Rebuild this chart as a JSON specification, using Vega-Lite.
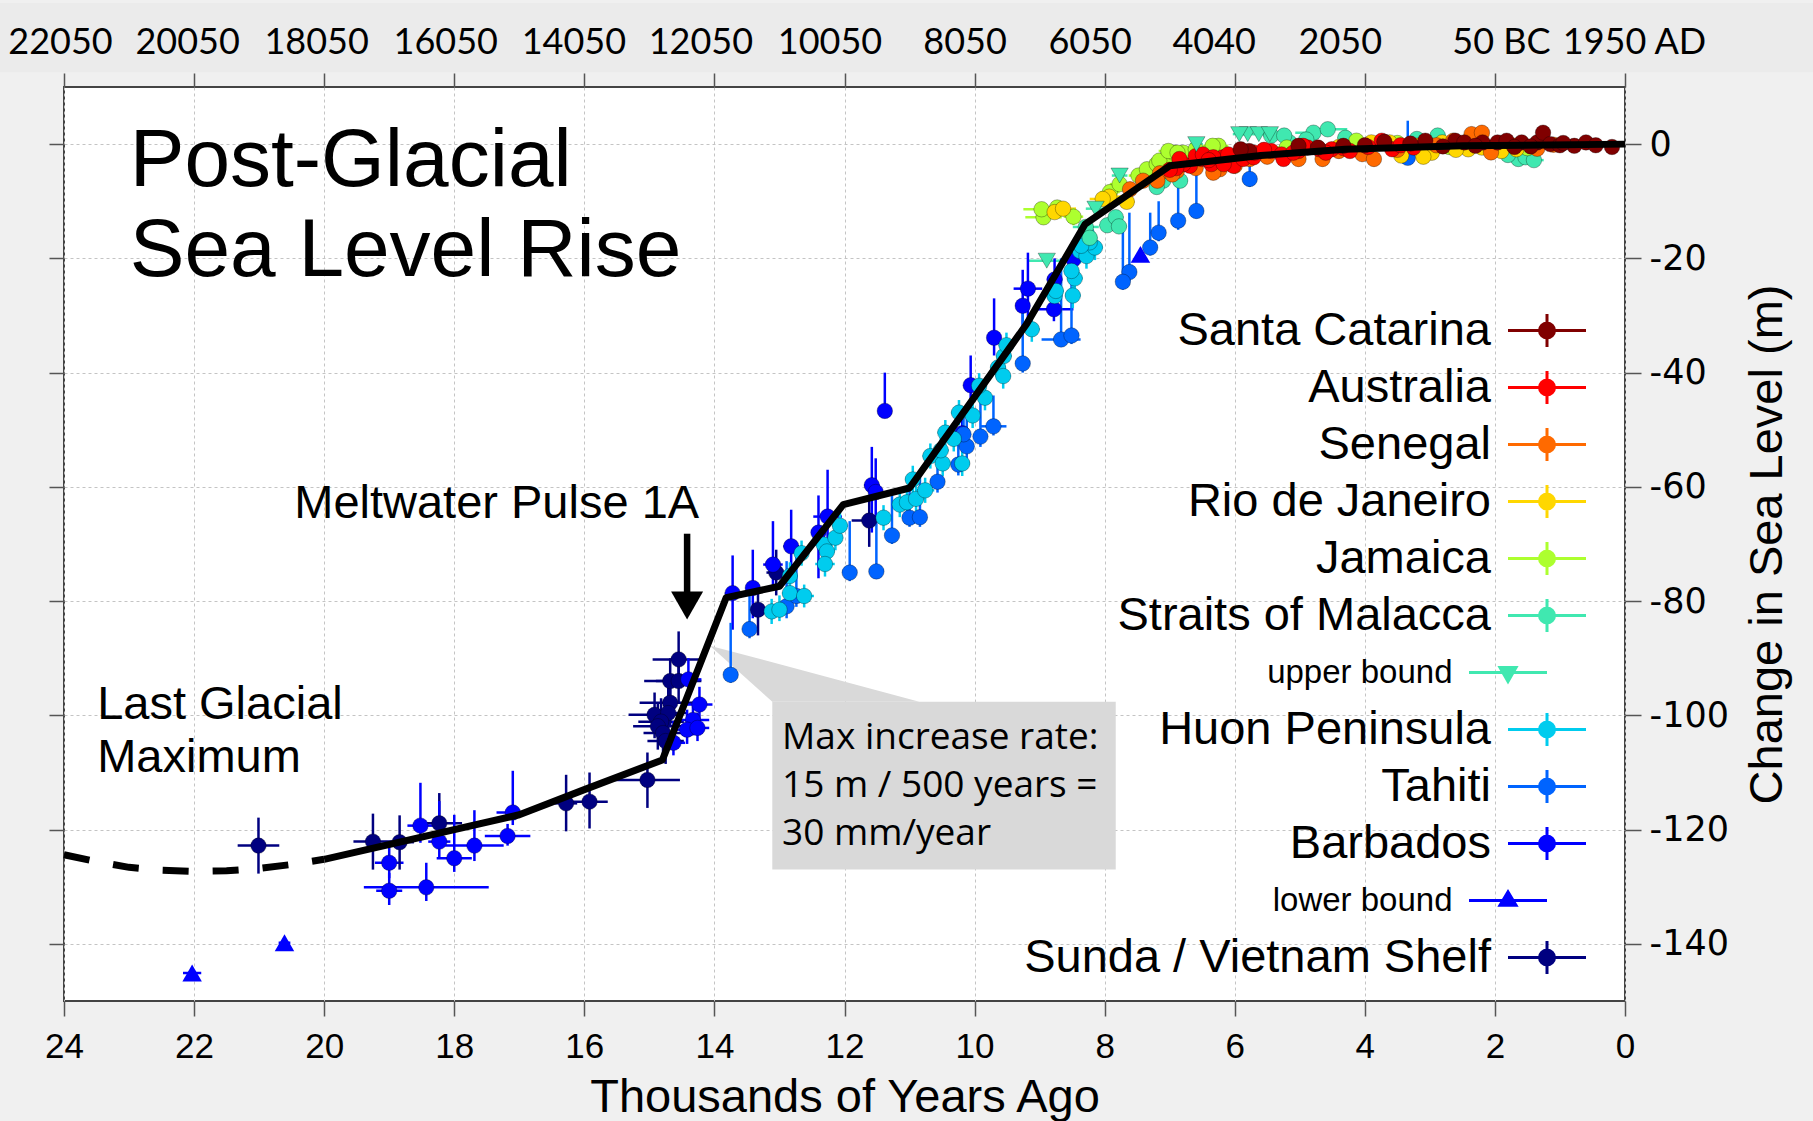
{
"$schema": "https://vega.github.io/schema/vega-lite/v6.json",
"width": 1561, "height": 914,
"autosize": {"type": "none"},
"padding": {"left": 64, "top": 87, "right": 188, "bottom": 120},
"background": "#f0f0f0",
"config": {"view": {"fill": "white", "stroke": "#444444", "strokeWidth": 2}, "text": {"font": "Liberation Sans"}},
"resolve": {"axis": {"x": "independent", "y": "independent"}},
"datasets": {
"pts": [
{"s":"Sunda / Vietnam Shelf","t":21.01,"z":-122.8,"dt":0.32,"eu":4.9,"ed":-4.9},
{"s":"Sunda / Vietnam Shelf","t":19.25,"z":-122.1,"dt":0.3,"eu":4.9,"ed":-4.9},
{"s":"Sunda / Vietnam Shelf","t":18.84,"z":-122.2,"dt":0.22,"eu":4.7,"ed":-4.8},
{"s":"Sunda / Vietnam Shelf","t":18.23,"z":-118.9,"dt":0.35,"eu":5.3,"ed":-3.6},
{"s":"Sunda / Vietnam Shelf","t":16.28,"z":-115.4,"dt":0.17,"eu":5,"ed":-4.9},
{"s":"Sunda / Vietnam Shelf","t":15.92,"z":-115.1,"dt":0.28,"eu":5.1,"ed":-4.7},
{"s":"Sunda / Vietnam Shelf","t":15.03,"z":-111.3,"dt":0.5,"eu":4.8,"ed":-4.9},
{"s":"Sunda / Vietnam Shelf","t":14.55,"z":-90.2,"dt":0.4,"eu":4.9,"ed":-4.9},
{"s":"Sunda / Vietnam Shelf","t":14.68,"z":-94.0,"dt":0.4,"eu":4,"ed":-4},
{"s":"Sunda / Vietnam Shelf","t":14.55,"z":-94.0,"dt":0.35,"eu":4,"ed":-4},
{"s":"Sunda / Vietnam Shelf","t":14.68,"z":-97.8,"dt":0.47,"eu":3.8,"ed":-4.2},
{"s":"Sunda / Vietnam Shelf","t":14.92,"z":-99.9,"dt":0.4,"eu":3.9,"ed":-4.1},
{"s":"Sunda / Vietnam Shelf","t":14.71,"z":-99.6,"dt":0.3,"eu":4.6,"ed":-4.4},
{"s":"Sunda / Vietnam Shelf","t":14.82,"z":-101.1,"dt":0.35,"eu":4.1,"ed":-3.9},
{"s":"Sunda / Vietnam Shelf","t":14.87,"z":-101.9,"dt":0.38,"eu":3.9,"ed":-4.1},
{"s":"Sunda / Vietnam Shelf","t":14.79,"z":-103.1,"dt":0.3,"eu":4.1,"ed":-3.9},
{"s":"Sunda / Vietnam Shelf","t":14.75,"z":-104.5,"dt":0.28,"eu":4,"ed":-4},
{"s":"Sunda / Vietnam Shelf","t":13.33,"z":-81.5,"dt":0.12,"eu":4.5,"ed":-4.5},
{"s":"Sunda / Vietnam Shelf","t":13.05,"z":-75.0,"dt":0.15,"eu":4,"ed":-4},
{"s":"Sunda / Vietnam Shelf","t":11.62,"z":-65.9,"dt":0.27,"eu":4.4,"ed":-4.6},
{"s":"lower bound","t":22.03,"z":-145.1,"dt":0.14,"eu":0,"ed":0},
{"s":"lower bound","t":20.61,"z":-139.8,"dt":0.09,"eu":0,"ed":0},
{"s":"lower bound","t":7.45,"z":-19.3,"dt":0,"eu":0,"ed":0},
{"s":"Barbados","t":19.0,"z":-125.8,"dt":0.22,"eu":3.3,"ed":-2.7},
{"s":"Barbados","t":19.0,"z":-130.7,"dt":0.2,"eu":3.1,"ed":-2.5},
{"s":"Barbados","t":18.52,"z":-119.3,"dt":0.2,"eu":7.5,"ed":-3},
{"s":"Barbados","t":18.23,"z":-122.1,"dt":0.17,"eu":7.1,"ed":-2.9},
{"s":"Barbados","t":18.43,"z":-130.1,"dt":0.96,"eu":4.3,"ed":-2.4},
{"s":"Barbados","t":18.0,"z":-125.0,"dt":0.27,"eu":7.6,"ed":-2.4},
{"s":"Barbados","t":17.69,"z":-122.8,"dt":0.45,"eu":6.2,"ed":-2.7},
{"s":"Barbados","t":17.18,"z":-121.1,"dt":0.35,"eu":2.1,"ed":-1.7},
{"s":"Barbados","t":17.10,"z":-117.0,"dt":0.25,"eu":7.3,"ed":-2.2},
{"s":"Barbados","t":14.40,"z":-93.7,"dt":0.2,"eu":3.7,"ed":-3.3},
{"s":"Barbados","t":14.23,"z":-98.1,"dt":0.2,"eu":3.1,"ed":-2.9},
{"s":"Barbados","t":14.33,"z":-100.8,"dt":0.25,"eu":2.8,"ed":-2.7},
{"s":"Barbados","t":14.42,"z":-102.5,"dt":0.2,"eu":3.5,"ed":-2.5},
{"s":"Barbados","t":14.26,"z":-102.2,"dt":0.18,"eu":2.7,"ed":-2.3},
{"s":"Barbados","t":14.63,"z":-104.8,"dt":0.18,"eu":3.8,"ed":-2.2},
{"s":"Barbados","t":13.72,"z":-78.6,"dt":0.12,"eu":6.6,"ed":-6.4},
{"s":"Barbados","t":13.41,"z":-77.7,"dt":0.1,"eu":6.7,"ed":-5.3},
{"s":"Barbados","t":13.10,"z":-73.6,"dt":0.15,"eu":7.6,"ed":-4.4},
{"s":"Barbados","t":12.82,"z":-70.4,"dt":0.12,"eu":6.4,"ed":-3.6},
{"s":"Barbados","t":12.40,"z":-68.0,"dt":0.1,"eu":6.5,"ed":-8},
{"s":"Barbados","t":12.26,"z":-65.2,"dt":0.22,"eu":8.2,"ed":-7.8},
{"s":"Barbados","t":11.58,"z":-59.7,"dt":0.12,"eu":6.7,"ed":-8.3},
{"s":"Barbados","t":11.52,"z":-60.9,"dt":0.1,"eu":5.9,"ed":-5.1},
{"s":"Barbados","t":11.38,"z":-46.7,"dt":0,"eu":6.7,"ed":-1.1},
{"s":"Barbados","t":10.19,"z":-50.6,"dt":0.12,"eu":4.6,"ed":-2.4},
{"s":"Barbados","t":10.06,"z":-42.2,"dt":0.1,"eu":5.2,"ed":-4.3},
{"s":"Barbados","t":9.70,"z":-33.9,"dt":0.1,"eu":6.9,"ed":-3.1},
{"s":"Barbados","t":9.26,"z":-28.3,"dt":0.1,"eu":6.3,"ed":-4.7},
{"s":"Barbados","t":9.18,"z":-25.3,"dt":0.22,"eu":6.3,"ed":-5.7},
{"s":"Barbados","t":8.78,"z":-28.9,"dt":0.3,"eu":4.9,"ed":-2.1},
{"s":"Barbados","t":8.77,"z":-23.7,"dt":0.12,"eu":3.7,"ed":-3.3},
{"s":"Barbados","t":8.48,"z":-20.2,"dt":0.12,"eu":3.2,"ed":-2.8},
{"s":"Tahiti","t":13.75,"z":-92.9,"dt":0.1,"eu":9.1,"ed":-1.4},
{"s":"Tahiti","t":13.46,"z":-84.9,"dt":0.1,"eu":7.9,"ed":-1.6},
{"s":"Tahiti","t":12.89,"z":-80.9,"dt":0.1,"eu":7.9,"ed":-2.1},
{"s":"Tahiti","t":12.74,"z":-79.1,"dt":0.12,"eu":7.1,"ed":-1.9},
{"s":"Tahiti","t":11.92,"z":-75.0,"dt":0.08,"eu":9,"ed":-1.5},
{"s":"Tahiti","t":11.51,"z":-74.8,"dt":0.1,"eu":8.8,"ed":-1.2},
{"s":"Tahiti","t":11.27,"z":-68.5,"dt":0.08,"eu":7.5,"ed":-1.5},
{"s":"Tahiti","t":11.0,"z":-65.4,"dt":0.1,"eu":7.4,"ed":-1.6},
{"s":"Tahiti","t":10.84,"z":-65.3,"dt":0.1,"eu":7.3,"ed":-1.7},
{"s":"Tahiti","t":10.57,"z":-59.1,"dt":0.1,"eu":6.1,"ed":-1.9},
{"s":"Tahiti","t":10.25,"z":-56.1,"dt":0.1,"eu":6.1,"ed":-1.9},
{"s":"Tahiti","t":10.12,"z":-52.9,"dt":0.1,"eu":5.9,"ed":-2.1},
{"s":"Tahiti","t":9.91,"z":-51.2,"dt":0.1,"eu":6.2,"ed":-1.8},
{"s":"Tahiti","t":9.71,"z":-49.4,"dt":0.2,"eu":5.4,"ed":-1.6},
{"s":"Tahiti","t":10.17,"z":-50.8,"dt":0.08,"eu":4.8,"ed":-1.2},
{"s":"Tahiti","t":9.26,"z":-38.4,"dt":0.05,"eu":10.4,"ed":-1.6},
{"s":"Tahiti","t":8.67,"z":-34.2,"dt":0.3,"eu":14.2,"ed":-1.3},
{"s":"Tahiti","t":8.51,"z":-33.5,"dt":0.1,"eu":11.5,"ed":-1.5},
{"s":"Tahiti","t":7.62,"z":-22.4,"dt":0.08,"eu":10.4,"ed":-1.6},
{"s":"Tahiti","t":7.72,"z":-24.1,"dt":0.08,"eu":10.1,"ed":-1.4},
{"s":"Tahiti","t":7.30,"z":-18.1,"dt":0.08,"eu":6.1,"ed":-1.4},
{"s":"Tahiti","t":7.17,"z":-15.5,"dt":0.1,"eu":5.5,"ed":-1.5},
{"s":"Tahiti","t":6.87,"z":-13.4,"dt":0.08,"eu":8.4,"ed":-1.6},
{"s":"Tahiti","t":6.59,"z":-11.7,"dt":0.08,"eu":7.7,"ed":-1.3},
{"s":"Tahiti","t":5.77,"z":-6.1,"dt":0.08,"eu":5.1,"ed":-1.4},
{"s":"Tahiti","t":3.34,"z":-2.4,"dt":0,"eu":6.5,"ed":-0.6},
{"s":"Huon Peninsula","t":13.12,"z":-81.8,"dt":0.12,"eu":2.2,"ed":-2.2},
{"s":"Huon Peninsula","t":13.0,"z":-81.5,"dt":0.13,"eu":2.5,"ed":-2},
{"s":"Huon Peninsula","t":12.84,"z":-78.6,"dt":0.12,"eu":2.2,"ed":-2.2},
{"s":"Huon Peninsula","t":12.62,"z":-79.1,"dt":0.15,"eu":2,"ed":-2},
{"s":"Huon Peninsula","t":12.84,"z":-75.6,"dt":0.12,"eu":2.4,"ed":-2.4},
{"s":"Huon Peninsula","t":12.66,"z":-71.6,"dt":0.12,"eu":2.2,"ed":-2.2},
{"s":"Huon Peninsula","t":12.32,"z":-70.1,"dt":0.14,"eu":2.2,"ed":-2.2},
{"s":"Huon Peninsula","t":12.27,"z":-71.3,"dt":0.12,"eu":2,"ed":-2},
{"s":"Huon Peninsula","t":12.30,"z":-73.5,"dt":0.15,"eu":2.2,"ed":-2.2},
{"s":"Huon Peninsula","t":12.14,"z":-68.9,"dt":0.12,"eu":2.2,"ed":-2.2},
{"s":"Huon Peninsula","t":12.07,"z":-66.8,"dt":0.12,"eu":2.5,"ed":-2.5},
{"s":"Huon Peninsula","t":11.40,"z":-65.4,"dt":0.12,"eu":2.2,"ed":-2.2},
{"s":"Huon Peninsula","t":11.15,"z":-63.1,"dt":0.12,"eu":2.2,"ed":-2.2},
{"s":"Huon Peninsula","t":11.04,"z":-62.7,"dt":0.12,"eu":2,"ed":-2},
{"s":"Huon Peninsula","t":10.90,"z":-62.1,"dt":0.12,"eu":2.2,"ed":-2.2},
{"s":"Huon Peninsula","t":10.76,"z":-60.6,"dt":0.14,"eu":2.2,"ed":-2.2},
{"s":"Huon Peninsula","t":10.95,"z":-58.7,"dt":0.12,"eu":2.4,"ed":-2.4},
{"s":"Huon Peninsula","t":10.68,"z":-54.6,"dt":0.12,"eu":2.2,"ed":-2.2},
{"s":"Huon Peninsula","t":10.49,"z":-55.9,"dt":0.12,"eu":2.2,"ed":-2.2},
{"s":"Huon Peninsula","t":10.52,"z":-53.6,"dt":0.12,"eu":2.2,"ed":-2.2},
{"s":"Huon Peninsula","t":10.45,"z":-50.5,"dt":0.12,"eu":2.2,"ed":-2.2},
{"s":"Huon Peninsula","t":10.19,"z":-55.9,"dt":0.12,"eu":2.2,"ed":-2.2},
{"s":"Huon Peninsula","t":10.32,"z":-51.6,"dt":0.12,"eu":2.2,"ed":-2.2},
{"s":"Huon Peninsula","t":10.24,"z":-47.0,"dt":0.12,"eu":2.2,"ed":-2.2},
{"s":"Huon Peninsula","t":10.03,"z":-47.5,"dt":0.12,"eu":2.2,"ed":-2.2},
{"s":"Huon Peninsula","t":9.84,"z":-44.4,"dt":0.12,"eu":2.2,"ed":-2.2},
{"s":"Huon Peninsula","t":9.93,"z":-42.3,"dt":0.12,"eu":2.2,"ed":-2.2},
{"s":"Huon Peninsula","t":9.64,"z":-39.1,"dt":0.12,"eu":2.2,"ed":-2.2},
{"s":"Huon Peninsula","t":9.56,"z":-40.6,"dt":0.12,"eu":2.2,"ed":-2.2},
{"s":"Huon Peninsula","t":9.55,"z":-37.1,"dt":0.12,"eu":2.2,"ed":-2.2},
{"s":"Huon Peninsula","t":9.51,"z":-35.2,"dt":0.12,"eu":2.2,"ed":-2.2},
{"s":"Huon Peninsula","t":9.12,"z":-32.4,"dt":0.12,"eu":2.2,"ed":-2.2},
{"s":"Huon Peninsula","t":8.77,"z":-26.6,"dt":0.12,"eu":2.2,"ed":-2.2},
{"s":"Huon Peninsula","t":8.75,"z":-25.7,"dt":0.12,"eu":2.2,"ed":-2.2},
{"s":"Huon Peninsula","t":8.49,"z":-26.5,"dt":0.12,"eu":2.2,"ed":-2.2},
{"s":"Huon Peninsula","t":8.46,"z":-23.5,"dt":0.12,"eu":2.2,"ed":-2.2},
{"s":"Huon Peninsula","t":8.51,"z":-22.2,"dt":0.12,"eu":2.2,"ed":-2.2},
{"s":"Huon Peninsula","t":8.38,"z":-18.7,"dt":0.12,"eu":2.2,"ed":-2.2},
{"s":"Huon Peninsula","t":8.28,"z":-19.6,"dt":0.12,"eu":2.2,"ed":-2.2},
{"s":"Huon Peninsula","t":8.15,"z":-18.1,"dt":0.12,"eu":2.2,"ed":-2.2},
{"s":"Huon Peninsula","t":8.28,"z":-15.5,"dt":0.12,"eu":2.2,"ed":-2.2},
{"s":"Huon Peninsula","t":8.23,"z":-17.2,"dt":0.12,"eu":2.2,"ed":-2.2},
{"s":"Huon Peninsula","t":8.36,"z":-17.8,"dt":0.12,"eu":2.2,"ed":-2.2},
{"s":"upper bound","t":8.89,"z":-20.4,"dt":0.28,"eu":0,"ed":0},
{"s":"upper bound","t":8.14,"z":-11.3,"dt":0.15,"eu":0,"ed":0},
{"s":"upper bound","t":7.77,"z":-5.5,"dt":0.12,"eu":0,"ed":0},
{"s":"upper bound","t":6.59,"z":0,"dt":0.1,"eu":0,"ed":0},
{"s":"upper bound","t":5.80,"z":1.75,"dt":0.1,"eu":0,"ed":0},
{"s":"upper bound","t":5.93,"z":1.75,"dt":0.1,"eu":0,"ed":0},
{"s":"upper bound","t":5.63,"z":1.75,"dt":0.08,"eu":0,"ed":0},
{"s":"upper bound","t":5.46,"z":1.75,"dt":0.08,"eu":0,"ed":0},
{"s":"Straits of Malacca","t":7.96,"z":-14.2,"dt":0.12,"eu":1,"ed":-1},
{"s":"Straits of Malacca","t":7.83,"z":-12.8,"dt":0.12,"eu":1,"ed":-1},
{"s":"Straits of Malacca","t":7.78,"z":-14.4,"dt":0.12,"eu":1,"ed":-1},
{"s":"Straits of Malacca","t":8.29,"z":-14.5,"dt":0.2,"eu":1,"ed":-1},
{"s":"Straits of Malacca","t":8.23,"z":-16.4,"dt":0.12,"eu":1,"ed":-1},
{"s":"Straits of Malacca","t":7.10,"z":-6.4,"dt":0.12,"eu":1,"ed":-1},
{"s":"Straits of Malacca","t":6.84,"z":-6.4,"dt":0.12,"eu":1,"ed":-1},
{"s":"Straits of Malacca","t":7.2,"z":-7.5,"dt":0.12,"eu":1,"ed":-1},
{"s":"Straits of Malacca","t":5.44,"z":1.5,"dt":0.12,"eu":1,"ed":-1},
{"s":"Straits of Malacca","t":4.79,"z":2.0,"dt":0.28,"eu":1,"ed":-1},
{"s":"Straits of Malacca","t":5.16,"z":0.3,"dt":0.12,"eu":1,"ed":-1},
{"s":"Straits of Malacca","t":1.64,"z":-2.6,"dt":0.15,"eu":1,"ed":-1},
{"s":"Straits of Malacca","t":1.53,"z":-2.3,"dt":0.15,"eu":1,"ed":-1},
{"s":"Straits of Malacca","t":3.20,"z":0.9,"dt":0.12,"eu":1,"ed":-1},
{"s":"Straits of Malacca","t":2.88,"z":1.5,"dt":0.12,"eu":1,"ed":-1},
{"s":"Straits of Malacca","t":4.57,"z":2.6,"dt":0.3,"eu":1,"ed":-1},
{"s":"Straits of Malacca","t":5.24,"z":1.5,"dt":0.12,"eu":1,"ed":-1},
{"s":"Straits of Malacca","t":1.8,"z":-1.9,"dt":0.12,"eu":1,"ed":-1},
{"s":"Straits of Malacca","t":1.4,"z":-2.8,"dt":0.15,"eu":1,"ed":-1},
{"s":"Straits of Malacca","t":2.5,"z":-0.2,"dt":0.12,"eu":1,"ed":-1},
{"s":"Straits of Malacca","t":4.3,"z":1.1,"dt":0.12,"eu":1,"ed":-1},
{"s":"Straits of Malacca","t":4.9,"z":0.8,"dt":0.12,"eu":1,"ed":-1},
{"s":"Jamaica","t":8.94,"z":-12.8,"dt":0.28,"eu":1,"ed":-1},
{"s":"Jamaica","t":8.97,"z":-11.4,"dt":0.28,"eu":1,"ed":-1},
{"s":"Jamaica","t":8.73,"z":-11.1,"dt":0.15,"eu":1,"ed":-1},
{"s":"Jamaica","t":8.48,"z":-12.7,"dt":0.15,"eu":1.5,"ed":-1.5},
{"s":"Jamaica","t":7.92,"z":-8.4,"dt":0.15,"eu":1,"ed":-1},
{"s":"Jamaica","t":7.77,"z":-7.0,"dt":0.15,"eu":1,"ed":-1},
{"s":"Jamaica","t":7.48,"z":-5.5,"dt":0.15,"eu":1,"ed":-1},
{"s":"Jamaica","t":7.35,"z":-4.4,"dt":0.15,"eu":1,"ed":-1},
{"s":"Jamaica","t":7.20,"z":-3.5,"dt":0.15,"eu":1,"ed":-1},
{"s":"Jamaica","t":7.07,"z":-2.6,"dt":0.15,"eu":1,"ed":-1},
{"s":"Jamaica","t":6.94,"z":-1.5,"dt":0.15,"eu":1,"ed":-1},
{"s":"Jamaica","t":6.79,"z":-1.5,"dt":0.15,"eu":1,"ed":-1},
{"s":"Jamaica","t":6.25,"z":-0.3,"dt":0.15,"eu":1,"ed":-1},
{"s":"Jamaica","t":7.16,"z":-2.9,"dt":0.15,"eu":1,"ed":-1},
{"s":"Jamaica","t":7.02,"z":-1.2,"dt":0.15,"eu":1,"ed":-1},
{"s":"Jamaica","t":6.88,"z":-1.5,"dt":0.15,"eu":1,"ed":-1},
{"s":"Jamaica","t":6.60,"z":-0.9,"dt":0.15,"eu":1,"ed":-1},
{"s":"Jamaica","t":6.34,"z":-0.3,"dt":0.15,"eu":1,"ed":-1},
{"s":"Jamaica","t":4.13,"z":0.6,"dt":0.15,"eu":1,"ed":-1},
{"s":"Jamaica","t":1.9,"z":-0.3,"dt":0.15,"eu":1,"ed":-1},
{"s":"Jamaica","t":3.5,"z":0.2,"dt":0.15,"eu":1,"ed":-1},
{"s":"Jamaica","t":2.7,"z":-0.5,"dt":0.15,"eu":1,"ed":-1},
{"s":"Jamaica","t":1.5,"z":-0.7,"dt":0.15,"eu":1,"ed":-1},
{"s":"Jamaica","t":5.2,"z":-0.6,"dt":0.15,"eu":1,"ed":-1},
{"s":"Rio de Janeiro","t":8.77,"z":-11.9,"dt":0.2,"eu":1,"ed":-1},
{"s":"Rio de Janeiro","t":8.64,"z":-11.3,"dt":0.2,"eu":1,"ed":-1},
{"s":"Rio de Janeiro","t":7.93,"z":-9.2,"dt":0.2,"eu":1,"ed":-1},
{"s":"Rio de Janeiro","t":8.03,"z":-9.6,"dt":0.2,"eu":1,"ed":-1},
{"s":"Rio de Janeiro","t":7.66,"z":-10.1,"dt":0.12,"eu":1,"ed":-1},
{"s":"Rio de Janeiro","t":3.90,"z":0.3,"dt":0.12,"eu":1,"ed":-1},
{"s":"Rio de Janeiro","t":3.44,"z":-2.0,"dt":0.12,"eu":1,"ed":-1},
{"s":"Rio de Janeiro","t":2.97,"z":-1.5,"dt":0.12,"eu":1,"ed":-1},
{"s":"Rio de Janeiro","t":2.81,"z":0.3,"dt":0.12,"eu":1,"ed":-1},
{"s":"Rio de Janeiro","t":1.67,"z":-0.9,"dt":0.12,"eu":1,"ed":-1},
{"s":"Rio de Janeiro","t":3.62,"z":0.3,"dt":0.12,"eu":1,"ed":-1},
{"s":"Rio de Janeiro","t":2.41,"z":-0.9,"dt":0.12,"eu":1,"ed":-1},
{"s":"Rio de Janeiro","t":3.2,"z":-0.3,"dt":0.12,"eu":1,"ed":-1},
{"s":"Rio de Janeiro","t":2.6,"z":-1.0,"dt":0.12,"eu":1,"ed":-1},
{"s":"Rio de Janeiro","t":2.2,"z":-0.6,"dt":0.12,"eu":1,"ed":-1},
{"s":"Rio de Janeiro","t":1.9,"z":-1.2,"dt":0.12,"eu":1,"ed":-1},
{"s":"Rio de Janeiro","t":4.4,"z":-0.5,"dt":0.12,"eu":1,"ed":-1},
{"s":"Rio de Janeiro","t":3.1,"z":-2.2,"dt":0.12,"eu":1,"ed":-1},
{"s":"Senegal","t":7.61,"z":-7.9,"dt":0.1,"eu":1.3,"ed":-1.3},
{"s":"Senegal","t":7.41,"z":-6.4,"dt":0.1,"eu":1.3,"ed":-1.3},
{"s":"Senegal","t":7.15,"z":-5.1,"dt":0.1,"eu":1.3,"ed":-1.3},
{"s":"Senegal","t":6.89,"z":-4.7,"dt":0.1,"eu":1.3,"ed":-1.3},
{"s":"Senegal","t":6.23,"z":-4.4,"dt":0.1,"eu":1.3,"ed":-1.3},
{"s":"Senegal","t":7.19,"z":-6.4,"dt":0.1,"eu":1.3,"ed":-1.3},
{"s":"Senegal","t":6.96,"z":-5.3,"dt":0.1,"eu":1.3,"ed":-1.3},
{"s":"Senegal","t":6.33,"z":-5.0,"dt":0.1,"eu":1.3,"ed":-1.3},
{"s":"Senegal","t":6.0,"z":-3.8,"dt":0.1,"eu":1.3,"ed":-1.3},
{"s":"Senegal","t":5.77,"z":-2.6,"dt":0.1,"eu":1.3,"ed":-1.3},
{"s":"Senegal","t":5.02,"z":-2.6,"dt":0.1,"eu":1.3,"ed":-1.3},
{"s":"Senegal","t":4.65,"z":-2.6,"dt":0.1,"eu":1.3,"ed":-1.3},
{"s":"Senegal","t":4.04,"z":-1.75,"dt":0.1,"eu":1.3,"ed":-1.3},
{"s":"Senegal","t":3.86,"z":-2.6,"dt":0.1,"eu":1.3,"ed":-1.3},
{"s":"Senegal","t":2.64,"z":0.6,"dt":0.1,"eu":1.3,"ed":-1.3},
{"s":"Senegal","t":2.36,"z":1.75,"dt":0.1,"eu":1.3,"ed":-1.3},
{"s":"Senegal","t":2.20,"z":2.0,"dt":0.1,"eu":1.3,"ed":-1.3},
{"s":"Senegal","t":1.71,"z":-0.3,"dt":0.1,"eu":1.3,"ed":-1.3},
{"s":"Senegal","t":2.06,"z":-1.45,"dt":0.1,"eu":1.3,"ed":-1.3},
{"s":"Senegal","t":6.6,"z":-4.2,"dt":0.1,"eu":1.3,"ed":-1.3},
{"s":"Senegal","t":5.5,"z":-2.2,"dt":0.1,"eu":1.3,"ed":-1.3},
{"s":"Senegal","t":4.4,"z":-1.2,"dt":0.1,"eu":1.3,"ed":-1.3},
{"s":"Senegal","t":3.5,"z":-1.0,"dt":0.1,"eu":1.3,"ed":-1.3},
{"s":"Senegal","t":2.9,"z":-0.2,"dt":0.1,"eu":1.3,"ed":-1.3},
{"s":"Senegal","t":1.35,"z":-0.8,"dt":0.1,"eu":1.3,"ed":-1.3},
{"s":"Senegal","t":1.1,"z":-0.1,"dt":0.1,"eu":1.3,"ed":-1.3},
{"s":"Australia","t":6.69,"z":-3.8,"dt":0.08,"eu":0.9,"ed":-0.9},
{"s":"Australia","t":6.51,"z":-2.6,"dt":0.08,"eu":0.9,"ed":-0.9},
{"s":"Australia","t":6.36,"z":-3.5,"dt":0.08,"eu":0.9,"ed":-0.9},
{"s":"Australia","t":6.18,"z":-2.3,"dt":0.08,"eu":0.9,"ed":-0.9},
{"s":"Australia","t":6.02,"z":-3.8,"dt":0.08,"eu":0.9,"ed":-0.9},
{"s":"Australia","t":5.87,"z":-2.6,"dt":0.08,"eu":0.9,"ed":-0.9},
{"s":"Australia","t":5.71,"z":-2.3,"dt":0.08,"eu":0.9,"ed":-0.9},
{"s":"Australia","t":6.79,"z":-3.5,"dt":0.08,"eu":0.9,"ed":-0.9},
{"s":"Australia","t":6.60,"z":-2.1,"dt":0.08,"eu":0.9,"ed":-0.9},
{"s":"Australia","t":6.49,"z":-1.8,"dt":0.08,"eu":0.9,"ed":-0.9},
{"s":"Australia","t":6.33,"z":-2.3,"dt":0.08,"eu":0.9,"ed":-0.9},
{"s":"Australia","t":6.17,"z":-3.5,"dt":0.08,"eu":0.9,"ed":-0.9},
{"s":"Australia","t":5.91,"z":-1.5,"dt":0.08,"eu":0.9,"ed":-0.9},
{"s":"Australia","t":5.70,"z":-1.5,"dt":0.08,"eu":0.9,"ed":-0.9},
{"s":"Australia","t":5.44,"z":-1.2,"dt":0.08,"eu":0.9,"ed":-0.9},
{"s":"Australia","t":5.28,"z":-1.8,"dt":0.08,"eu":0.9,"ed":-0.9},
{"s":"Australia","t":5.02,"z":-1.2,"dt":0.08,"eu":0.9,"ed":-0.9},
{"s":"Australia","t":4.88,"z":-0.6,"dt":0.08,"eu":0.9,"ed":-0.9},
{"s":"Australia","t":4.70,"z":-0.9,"dt":0.08,"eu":0.9,"ed":-0.9},
{"s":"Australia","t":4.51,"z":-0.9,"dt":0.08,"eu":0.9,"ed":-0.9},
{"s":"Australia","t":4.33,"z":-0.7,"dt":0.08,"eu":0.9,"ed":-0.9},
{"s":"Australia","t":4.23,"z":-1.2,"dt":0.08,"eu":0.9,"ed":-0.9},
{"s":"Australia","t":3.74,"z":0.6,"dt":0.08,"eu":0.9,"ed":-0.9},
{"s":"Australia","t":3.58,"z":-0.9,"dt":0.08,"eu":0.9,"ed":-0.9},
{"s":"Australia","t":3.25,"z":-0.6,"dt":0.08,"eu":0.9,"ed":-0.9},
{"s":"Australia","t":5.25,"z":-2.6,"dt":0.08,"eu":0.9,"ed":-0.9},
{"s":"Australia","t":6.9,"z":-4.2,"dt":0.08,"eu":0.9,"ed":-0.9},
{"s":"Australia","t":7.0,"z":-4.5,"dt":0.08,"eu":0.9,"ed":-0.9},
{"s":"Australia","t":6.1,"z":-1.8,"dt":0.08,"eu":0.9,"ed":-0.9},
{"s":"Australia","t":5.55,"z":-1.0,"dt":0.08,"eu":0.9,"ed":-0.9},
{"s":"Australia","t":5.1,"z":-1.5,"dt":0.08,"eu":0.9,"ed":-0.9},
{"s":"Australia","t":4.95,"z":-0.3,"dt":0.08,"eu":0.9,"ed":-0.9},
{"s":"Australia","t":4.6,"z":-1.5,"dt":0.08,"eu":0.9,"ed":-0.9},
{"s":"Australia","t":3.95,"z":-0.5,"dt":0.08,"eu":0.9,"ed":-0.9},
{"s":"Australia","t":3.45,"z":-0.2,"dt":0.08,"eu":0.9,"ed":-0.9},
{"s":"Australia","t":6.85,"z":-2.6,"dt":0.08,"eu":0.9,"ed":-0.9},
{"s":"Australia","t":6.4,"z":-2.8,"dt":0.08,"eu":0.9,"ed":-0.9},
{"s":"Santa Catarina","t":5.78,"z":-1.2,"dt":0.1,"eu":0.8,"ed":-0.8},
{"s":"Santa Catarina","t":5.91,"z":-0.9,"dt":0.1,"eu":0.8,"ed":-0.8},
{"s":"Santa Catarina","t":5.02,"z":-0.3,"dt":0.1,"eu":0.8,"ed":-0.8},
{"s":"Santa Catarina","t":4.72,"z":-0.6,"dt":0.1,"eu":0.8,"ed":-0.8},
{"s":"Santa Catarina","t":4.33,"z":-0.3,"dt":0.1,"eu":0.8,"ed":-0.8},
{"s":"Santa Catarina","t":3.07,"z":0.6,"dt":0.1,"eu":0.8,"ed":-0.8},
{"s":"Santa Catarina","t":2.61,"z":0.6,"dt":0.1,"eu":0.8,"ed":-0.8},
{"s":"Santa Catarina","t":2.47,"z":0.3,"dt":0.1,"eu":0.8,"ed":-0.8},
{"s":"Santa Catarina","t":2.19,"z":0.3,"dt":0.1,"eu":0.8,"ed":-0.8},
{"s":"Santa Catarina","t":1.96,"z":0.3,"dt":0.1,"eu":0.8,"ed":-0.8},
{"s":"Santa Catarina","t":1.82,"z":0.6,"dt":0.1,"eu":0.8,"ed":-0.8},
{"s":"Santa Catarina","t":1.59,"z":0.3,"dt":0.1,"eu":0.8,"ed":-0.8},
{"s":"Santa Catarina","t":1.35,"z":0.3,"dt":0.1,"eu":0.8,"ed":-0.8},
{"s":"Santa Catarina","t":1.26,"z":2.0,"dt":0.1,"eu":0.8,"ed":-0.8},
{"s":"Santa Catarina","t":1.15,"z":0,"dt":0.1,"eu":0.8,"ed":-0.8},
{"s":"Santa Catarina","t":0.78,"z":-0.3,"dt":0.1,"eu":0.8,"ed":-0.8},
{"s":"Santa Catarina","t":0.2,"z":-0.5,"dt":0.1,"eu":0.8,"ed":-0.8},
{"s":"Santa Catarina","t":0.6,"z":0.3,"dt":0.1,"eu":0.8,"ed":-0.8},
{"s":"Santa Catarina","t":1.0,"z":-0.2,"dt":0.1,"eu":0.8,"ed":-0.8},
{"s":"Santa Catarina","t":3.3,"z":0.1,"dt":0.1,"eu":0.8,"ed":-0.8},
{"s":"Santa Catarina","t":2.8,"z":-0.4,"dt":0.1,"eu":0.8,"ed":-0.8},
{"s":"Santa Catarina","t":2.3,"z":-0.3,"dt":0.1,"eu":0.8,"ed":-0.8},
{"s":"Santa Catarina","t":1.7,"z":-0.5,"dt":0.1,"eu":0.8,"ed":-0.8},
{"s":"Santa Catarina","t":1.45,"z":-0.4,"dt":0.1,"eu":0.8,"ed":-0.8},
{"s":"Santa Catarina","t":0.95,"z":0.2,"dt":0.1,"eu":0.8,"ed":-0.8},
{"s":"Santa Catarina","t":0.45,"z":-0.2,"dt":0.1,"eu":0.8,"ed":-0.8},
{"s":"Santa Catarina","t":4.0,"z":-0.2,"dt":0.1,"eu":0.8,"ed":-0.8},
{"s":"Santa Catarina","t":3.7,"z":0.4,"dt":0.1,"eu":0.8,"ed":-0.8}
],
"curveDash": [
{"t":24,"z":-124.4},{"t":23.5,"z":-125.6},{"t":23,"z":-126.6},{"t":22.5,"z":-127.1},{"t":22,"z":-127.3},{"t":21.5,"z":-127.2},{"t":21,"z":-126.8},{"t":20.5,"z":-126.1},{"t":20,"z":-125.2}
],
"curveSolid": [
{"t":20,"z":-125.2},{"t":17.0,"z":-117.4},{"t":16.0,"z":-113.0},{"t":14.8,"z":-107.8},{"t":13.82,"z":-79.4},{"t":13.0,"z":-77.4},{"t":12.02,"z":-63.1},{"t":11.0,"z":-60.2},{"t":9.2,"z":-31.5},{"t":8.3,"z":-14.0},{"t":7.0,"z":-3.8},{"t":5.6,"z":-2.0},{"t":4.3,"z":-0.9},{"t":2.5,"z":-0.3},{"t":0,"z":0}
],
"wedge": [
{"t":14.07,"z":-87.8,"z2":-87.8},{"t":13.11,"z":-90.7,"z2":-97.6},{"t":10.85,"z":-97.6,"z2":-97.6}
]
},
"layer": [
{
"data": {"values": [{}]},
"mark": {"type": "rect", "fill": "#ebebeb"},
"encoding": {
"x": {"datum": 25, "type": "quantitative", "scale": {"domain": [0, 24], "reverse": true, "nice": false, "zero": false},
 "axis": {"orient": "top", "values": [0,2,4,6,8,10,12,14,16,18,20,22,24], "labelExpr": "datum.value==24?'22050':datum.value==22?'20050':datum.value==20?'18050':datum.value==18?'16050':datum.value==16?'14050':datum.value==14?'12050':datum.value==12?'10050':datum.value==10?'8050':datum.value==8?'6050':datum.value==6?'4040':datum.value==4?'2050':datum.value==2?'50 BC':'1950 AD'", "grid": false, "domain": false, "ticks": true, "tickSize": 14, "tickColor": "#555555", "tickWidth": 1.5, "labelFont": "Lato", "labelFontSize": 36, "labelColor": "black", "labelPadding": 12, "labelFlush": false, "labelOverlap": false, "labelBound": false, "title": null, "zindex": 1,
  "encoding": {"labels": {"dx": {"value": {"expr": "datum.value==24?-4:datum.value==22?-7:datum.value==20?-8:datum.value==18?-9:datum.value==16?-11:datum.value==14?-14:datum.value==12?-15:datum.value==10?-10:datum.value==8?-15:datum.value==6?-21:datum.value==4?-25:datum.value==2?6:9"}}}}}},
"x2": {"datum": -2.9},
"y": {"datum": 24.7, "type": "quantitative", "scale": {"domain": [-150, 10], "nice": false, "zero": false},
 "axis": {"orient": "left", "values": [-140,-120,-100,-80,-60,-40,-20,0], "labels": false, "grid": false, "domain": false, "ticks": true, "tickSize": 15, "tickColor": "#555555", "tickWidth": 1.5, "title": null}},
"y2": {"datum": 12.6}
}
},
{
"data": {"name": "wedge"},
"mark": {"type": "area", "fill": "#d9d9d9", "orient": "vertical"},
"encoding": {
"x": {"field": "t", "type": "quantitative", "scale": {"domain": [0, 24], "reverse": true, "nice": false, "zero": false}, "axis": null},
"y": {"field": "z", "type": "quantitative", "scale": {"domain": [-150, 10], "nice": false, "zero": false}, "axis": null},
"y2": {"field": "z2"}
}
},
{
"data": {"values": [{}]},
"mark": {"type": "rect", "fill": "#d9d9d9"},
"encoding": {
"x": {"datum": 13.11, "type": "quantitative", "scale": {"domain": [0, 24], "reverse": true, "nice": false, "zero": false}, "axis": null},
"x2": {"datum": 7.83},
"y": {"datum": -97.6, "type": "quantitative", "scale": {"domain": [-150, 10], "nice": false, "zero": false}, "axis": null},
"y2": {"datum": -127.0}
}
},
{
"data": {"values": [{}]},
"mark": {"type": "text", "align": "left", "baseline": "alphabetic", "font": "Open Sans", "fontSize": 37, "lineHeight": 48, "color": "black"},
"encoding": {
"x": {"datum": 12.96, "type": "quantitative", "scale": {"domain": [0, 24], "reverse": true, "nice": false, "zero": false}, "axis": null},
"y": {"datum": -105.8, "type": "quantitative", "scale": {"domain": [-150, 10], "nice": false, "zero": false}, "axis": null},
"text": {"value": ["Max increase rate:", "15 m / 500 years =", "30 mm/year"]}
}
},
{
"data": {"name": "pts"},
"mark": {"type": "errorbar", "thickness": 2.5},
"encoding": {
"x": {"field": "t", "type": "quantitative", "scale": {"domain": [0, 24], "reverse": true, "nice": false, "zero": false}, "axis": null},
"xError": {"field": "dt"},
"y": {"field": "z", "type": "quantitative", "scale": {"domain": [-150, 10], "nice": false, "zero": false}, "axis": null},
"color": {"field": "s", "type": "nominal",
 "scale": {"domain": ["Santa Catarina","Australia","Senegal","Rio de Janeiro","Jamaica","Straits of Malacca","upper bound","Huon Peninsula","Tahiti","Barbados","lower bound","Sunda / Vietnam Shelf"],
  "range": ["#800000","#ff0000","#ff6a00","#ffd700","#adff2f","#40e8b0","#40e8b0","#00ccee","#0064ff","#0000ff","#0000ff","#000080"]}}
}
},
{
"data": {"name": "pts"},
"mark": {"type": "errorbar", "thickness": 2.5},
"encoding": {
"x": {"field": "t", "type": "quantitative", "scale": {"domain": [0, 24], "reverse": true, "nice": false, "zero": false}, "axis": null},
"y": {"field": "z", "type": "quantitative", "scale": {"domain": [-150, 10], "nice": false, "zero": false}, "axis": null},
"yError": {"field": "eu"},
"yError2": {"field": "ed"},
"color": {"field": "s", "type": "nominal"}
}
},
{
"data": {"name": "pts"},
"transform": [{"filter": "datum.s != 'upper bound' && datum.s != 'lower bound'"}],
"mark": {"type": "point", "shape": "circle", "filled": true, "size": 240, "opacity": 1, "stroke": "#000000", "strokeOpacity": 0.3, "strokeWidth": 1},
"encoding": {
"x": {"field": "t", "type": "quantitative", "scale": {"domain": [0, 24], "reverse": true, "nice": false, "zero": false},
 "axis": {"orient": "bottom", "values": [0,2,4,6,8,10,12,14,16,18,20,22,24], "grid": true, "gridColor": "#c4c4c4", "gridDash": [3,3], "gridWidth": 1, "domain": false, "tickSize": 15, "tickColor": "#555555", "tickWidth": 1.5, "labelFont": "Liberation Sans", "labelFontSize": 35, "labelColor": "black", "labelPadding": 13, "labelFlush": false, "labelOverlap": false, "title": "Thousands of Years Ago", "titleFont": "Liberation Sans", "titleFontSize": 47, "titleFontWeight": "normal", "titleColor": "black", "titlePadding": 10}},
"y": {"field": "z", "type": "quantitative", "scale": {"domain": [-150, 10], "nice": false, "zero": false},
 "axis": {"orient": "right", "values": [-140,-120,-100,-80,-60,-40,-20,0], "labelExpr": "datum.value==0?'0':'-'+abs(datum.value)", "grid": true, "gridColor": "#c4c4c4", "gridDash": [3,3], "gridWidth": 1, "domain": false, "tickSize": 16, "tickColor": "#555555", "tickWidth": 1.5, "labelFont": "DejaVu Sans", "labelFontSize": 35, "labelColor": "black", "labelPadding": 8, "title": "Change in Sea Level (m)", "titleFont": "Liberation Sans", "titleFontSize": 47, "titleFontWeight": "normal", "titleColor": "black", "titleAngle": 270, "titlePadding": 63}},
"color": {"field": "s", "type": "nominal",
 "legend": {"orient": "none", "legendX": 1454, "legendY": 214.5, "title": null, "padding": 0,
  "labelFont": "Liberation Sans", "labelFontSize": 47, "labelColor": "black", "labelAlign": "right", "labelBaseline": "middle", "labelOffset": -85, "labelLimit": 2000,
  "symbolSize": 3025, "symbolStrokeWidth": 3, "rowPadding": 0,
  "encoding": {
   "symbols": {
    "shape": {"value": {"expr": "datum.value=='upper bound'?'M-2.836,0L0,0M-1.709,-0.182L-1.127,-0.182L-1.418,0.327ZM0,-0.8M0,0.8':datum.value=='lower bound'?'M-2.836,0L0,0M-1.709,0.171L-1.127,0.171L-1.418,-0.316ZM0,-0.8M0,0.8':'M-1.418,0L1.418,0M0,-0.6L0,0.6M0.273,0A0.273,0.273,0,1,1,-0.273,0A0.273,0.273,0,1,1,0.273,0ZM0,-0.8M0,0.8'"}},
    "fill": {"value": {"expr": "scale('color', datum.value)"}},
    "stroke": {"value": {"expr": "scale('color', datum.value)"}},
    "strokeWidth": {"value": 3},
    "opacity": {"value": 1}
   },
   "labels": {
    "fontSize": {"value": {"expr": "datum.label=='upper bound'||datum.label=='lower bound'?33:47"}},
    "dx": {"value": {"expr": "datum.label=='upper bound'||datum.label=='lower bound'?-38.5:0"}}
   }
  }}}
}
},
{
"data": {"name": "pts"},
"transform": [{"filter": "datum.s == 'upper bound'"}],
"mark": {"type": "point", "shape": "triangle-down", "filled": true, "size": 300, "opacity": 1, "stroke": "#000000", "strokeOpacity": 0.3, "strokeWidth": 1},
"encoding": {
"x": {"field": "t", "type": "quantitative", "scale": {"domain": [0, 24], "reverse": true, "nice": false, "zero": false}, "axis": null},
"y": {"field": "z", "type": "quantitative", "scale": {"domain": [-150, 10], "nice": false, "zero": false}, "axis": null},
"color": {"field": "s", "type": "nominal"}
}
},
{
"data": {"name": "pts"},
"transform": [{"filter": "datum.s == 'lower bound'"}],
"mark": {"type": "point", "shape": "triangle-up", "filled": true, "size": 380, "opacity": 1},
"encoding": {
"x": {"field": "t", "type": "quantitative", "scale": {"domain": [0, 24], "reverse": true, "nice": false, "zero": false}, "axis": null},
"y": {"field": "z", "type": "quantitative", "scale": {"domain": [-150, 10], "nice": false, "zero": false}, "axis": null},
"color": {"field": "s", "type": "nominal"}
}
},
{
"data": {"name": "curveDash"},
"mark": {"type": "line", "color": "black", "strokeWidth": 7, "strokeDash": [26, 24]},
"encoding": {
"x": {"field": "t", "type": "quantitative", "scale": {"domain": [0, 24], "reverse": true, "nice": false, "zero": false}, "axis": null},
"y": {"field": "z", "type": "quantitative", "scale": {"domain": [-150, 10], "nice": false, "zero": false}, "axis": null}
}
},
{
"data": {"name": "curveSolid"},
"mark": {"type": "line", "color": "black", "strokeWidth": 7, "strokeJoin": "round"},
"encoding": {
"x": {"field": "t", "type": "quantitative", "scale": {"domain": [0, 24], "reverse": true, "nice": false, "zero": false}, "axis": null},
"y": {"field": "z", "type": "quantitative", "scale": {"domain": [-150, 10], "nice": false, "zero": false}, "axis": null}
}
},
{
"data": {"values": [{}]},
"mark": {"type": "rule", "color": "black", "strokeWidth": 6.5},
"encoding": {
"x": {"datum": 14.42, "type": "quantitative", "scale": {"domain": [0, 24], "reverse": true, "nice": false, "zero": false}, "axis": null},
"y": {"datum": -68.2, "type": "quantitative", "scale": {"domain": [-150, 10], "nice": false, "zero": false}, "axis": null},
"y2": {"datum": -78.8}
}
},
{
"data": {"values": [{}]},
"mark": {"type": "point", "shape": "M-1,-0.875L1,-0.875L0,0.875Z", "filled": true, "size": 1024, "color": "black", "opacity": 1},
"encoding": {
"x": {"datum": 14.42, "type": "quantitative", "scale": {"domain": [0, 24], "reverse": true, "nice": false, "zero": false}, "axis": null},
"y": {"datum": -80.75, "type": "quantitative", "scale": {"domain": [-150, 10], "nice": false, "zero": false}, "axis": null}
}
},
{
"data": {"values": [{}]},
"mark": {"type": "text", "align": "left", "baseline": "alphabetic", "font": "Liberation Sans", "fontSize": 82, "lineHeight": 90, "color": "black"},
"encoding": {
"x": {"datum": 22.99, "type": "quantitative", "scale": {"domain": [0, 24], "reverse": true, "nice": false, "zero": false}, "axis": null},
"y": {"datum": -7.36, "type": "quantitative", "scale": {"domain": [-150, 10], "nice": false, "zero": false}, "axis": null},
"text": {"value": ["Post-Glacial", "Sea Level Rise"]}
}
},
{
"data": {"values": [{}]},
"mark": {"type": "text", "align": "left", "baseline": "alphabetic", "font": "Liberation Sans", "fontSize": 47, "lineHeight": 53, "color": "black"},
"encoding": {
"x": {"datum": 23.49, "type": "quantitative", "scale": {"domain": [0, 24], "reverse": true, "nice": false, "zero": false}, "axis": null},
"y": {"datum": -100.6, "type": "quantitative", "scale": {"domain": [-150, 10], "nice": false, "zero": false}, "axis": null},
"text": {"value": ["Last Glacial", "Maximum"]}
}
},
{
"data": {"values": [{}]},
"mark": {"type": "text", "align": "left", "baseline": "alphabetic", "font": "Liberation Sans", "fontSize": 47, "color": "black"},
"encoding": {
"x": {"datum": 20.46, "type": "quantitative", "scale": {"domain": [0, 24], "reverse": true, "nice": false, "zero": false}, "axis": null},
"y": {"datum": -65.4, "type": "quantitative", "scale": {"domain": [-150, 10], "nice": false, "zero": false}, "axis": null},
"text": {"value": "Meltwater Pulse 1A"}
}
}
]
}
